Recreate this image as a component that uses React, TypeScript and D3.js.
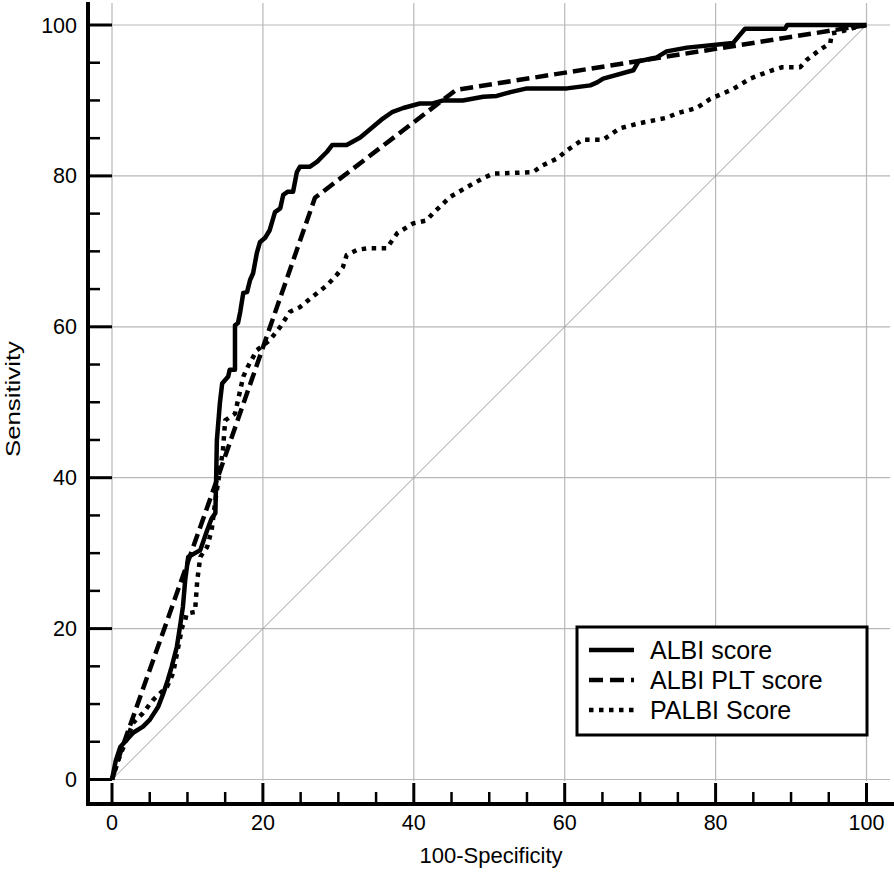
import React from "react";
import * as d3 from "d3";

const albiX = [0,0.5,1.1,2.8,4.1,5,6.1,6.8,7.4,7.9,8.6,9,9.4,9.7,10.1,11.7,12.6,13.2,13.7,13.8,13.9,14.3,14.6,15.4,15.6,16.3,16.3,16.7,17,17.4,17.9,18.3,18.7,19.2,19.6,20.3,20.9,21.6,22.3,22.7,23.3,24,24.5,24.9,26.2,27.2,28.5,29.2,31.1,32.9,34.6,35.9,37.2,38.6,40.8,42.5,43.9,46.5,49.2,51,52.8,55,60.3,63.4,64.3,65.1,69.1,69.8,72.2,73.5,76.2,82.3,82.8,83.9,89.2,89.5,100];
const albiY = [0,2.5,4.3,6.2,7,7.9,9.6,11.4,13.2,14.9,17.6,20.2,22.9,26.4,29.5,30.4,33,34.6,35.3,39.7,45,49.9,52.5,53.4,54.3,54.3,60.2,60.5,62,64.5,64.6,66.2,67.1,69.8,71.2,71.8,72.8,75.2,75.7,77.5,77.9,77.9,80.5,81.2,81.2,81.9,83.2,84.1,84.1,85.1,86.5,87.6,88.5,89,89.6,89.6,90,90,90.5,90.6,91.1,91.6,91.6,92,92.4,92.9,94,95.2,95.7,96.5,97,97.6,98.2,99.5,99.5,100,100];

const pltX = [0,1.1,13.9,26.9,45.6,100];
const pltY = [0,3.5,39.7,77.1,91.4,100];

const palbiX = [0,1,2.8,4.1,5.4,7.3,8.1,9.3,9.7,9.9,11,11.3,11.7,12.6,13.2,13.7,14.7,15,16.3,17.4,18,19.2,20.9,22.3,23.6,24.9,26.6,28.5,29.8,30.6,31.1,32.5,33.8,36.4,37.8,39.9,41.7,42.5,44.8,47,49.2,50.5,55.8,57.1,59,60.3,62.4,65.1,67.3,70,73.5,74.9,77.5,79.3,82.3,84.6,87.2,88.8,91.2,92.1,93.8,95.2,95.4,96.5,98.2,100];
const palbiY = [0,3,7.5,8.8,10.5,12.3,14.1,20.2,21.1,22,22.2,26.4,29.5,30.8,33,37,43.6,47.6,48.5,53.4,54.7,56.9,58.2,60,62,62.6,64,65.5,66.9,67.9,69.5,70.2,70.4,70.4,72.4,73.7,74.1,75,77.2,78.5,79.7,80.3,80.5,81.4,82.3,83.4,84.8,84.8,86.3,87,87.7,88.3,89,90.2,91.5,92.9,93.9,94.4,94.4,95.4,96.7,97.6,98.9,99.1,99.6,100];

const seriesNames = ["ALBI score", "ALBI PLT score", "PALBI Score"];
const majorTicks = [0, 20, 40, 60, 80, 100];
const minorTicks = d3.range(0, 101, 5).filter((v) => v % 20 !== 0);

const W = 894, H = 873;
const FONT = "'Liberation Sans', Arial, sans-serif";

export default function App() {
  const x = d3.scaleLinear().domain([0, 100]).range([112, 866.5]);
  const y = d3.scaleLinear().domain([0, 100]).range([779.5, 25]);
  const line = d3.line<[number, number]>().x((d) => x(d[0])).y((d) => y(d[1]));
  const zip = (a: number[], b: number[]) => a.map((v, i) => [v, b[i]] as [number, number]);

  const axisLeftX = 88;
  const axisBottomY = 804;
  const styles = [
    { dash: "none", w: 4.5 },
    { dash: "13 6", w: 4.5 },
    { dash: "4.5 5.5", w: 4.5 },
  ];
  const data = [zip(albiX, albiY), zip(pltX, pltY), zip(palbiX, palbiY)];

  const legendLeft = 577, legendTop = 627, legendRight = 867, legendBottom = 735;
  const rowY = [650, 680, 710];

  return (
    <svg width={W} height={H} style={{ position: "absolute", left: 0, top: 0, background: "#fff" }}>
      <rect x={0} y={0} width={W} height={H} fill="#fff" />
      {/* grid */}
      {majorTicks.map((t) => (
        <line key={"gv" + t} x1={x(t)} x2={x(t)} y1={3} y2={781} stroke="#b8b8b8" strokeWidth={1.2} />
      ))}
      {majorTicks.map((t) => (
        <line key={"gh" + t} x1={112} x2={890} y1={y(t)} y2={y(t)} stroke="#b8b8b8" strokeWidth={1.2} />
      ))}
      {/* diagonal */}
      <line x1={x(0)} y1={y(0)} x2={x(100)} y2={y(100)} stroke="#9a9a9a" strokeWidth={1} />
      {/* curves */}
      {data.map((d, i) => (
        <path key={"c" + i} d={line(d) || ""} fill="none" stroke="#000" strokeWidth={styles[i].w}
          strokeDasharray={styles[i].dash} strokeLinejoin="round" />
      ))}
      {/* axes */}
      <line x1={axisLeftX} x2={axisLeftX} y1={2} y2={806} stroke="#000" strokeWidth={4} />
      <line x1={86} x2={894} y1={axisBottomY} y2={axisBottomY} stroke="#000" strokeWidth={4} />
      {majorTicks.map((t) => (
        <g key={"yt" + t}>
          <line x1={axisLeftX} x2={112} y1={y(t)} y2={y(t)} stroke="#000" strokeWidth={3} />
          <text x={77} y={y(t)} dy="0.35em" textAnchor="end" fontFamily={FONT} fontSize={21.5}>{t}</text>
        </g>
      ))}
      {minorTicks.map((t) => (
        <line key={"ym" + t} x1={axisLeftX} x2={100} y1={y(t)} y2={y(t)} stroke="#000" strokeWidth={2.5} />
      ))}
      {majorTicks.map((t) => (
        <g key={"xt" + t}>
          <line x1={x(t)} x2={x(t)} y1={axisBottomY} y2={783} stroke="#000" strokeWidth={3} />
          <text x={x(t)} y={830} textAnchor="middle" fontFamily={FONT} fontSize={21.5}>{t}</text>
        </g>
      ))}
      {minorTicks.map((t) => (
        <line key={"xm" + t} x1={x(t)} x2={x(t)} y1={axisBottomY} y2={792} stroke="#000" strokeWidth={2.5} />
      ))}
      <text x={491} y={863} textAnchor="middle" fontFamily={FONT} fontSize={22}>100-Specificity</text>
      <text transform="translate(20,399) rotate(-90)" textAnchor="middle" fontFamily={FONT} fontSize={21}
        textLength={116} lengthAdjust="spacingAndGlyphs">Sensitivity</text>
      {/* legend */}
      <rect x={legendLeft} y={legendTop} width={legendRight - legendLeft} height={legendBottom - legendTop}
        fill="#fff" stroke="#000" strokeWidth={3} />
      {seriesNames.map((n, i) => (
        <g key={"lg" + i}>
          <line x1={589} x2={634} y1={rowY[i]} y2={rowY[i]} stroke="#000" strokeWidth={4.5}
            strokeDasharray={i === 1 ? "14 7" : i === 2 ? "4.5 5.5" : "none"} />
          <text x={650} y={rowY[i]} dy="0.36em" fontFamily={FONT} fontSize={25}>{n}</text>
        </g>
      ))}
    </svg>
  );
}
